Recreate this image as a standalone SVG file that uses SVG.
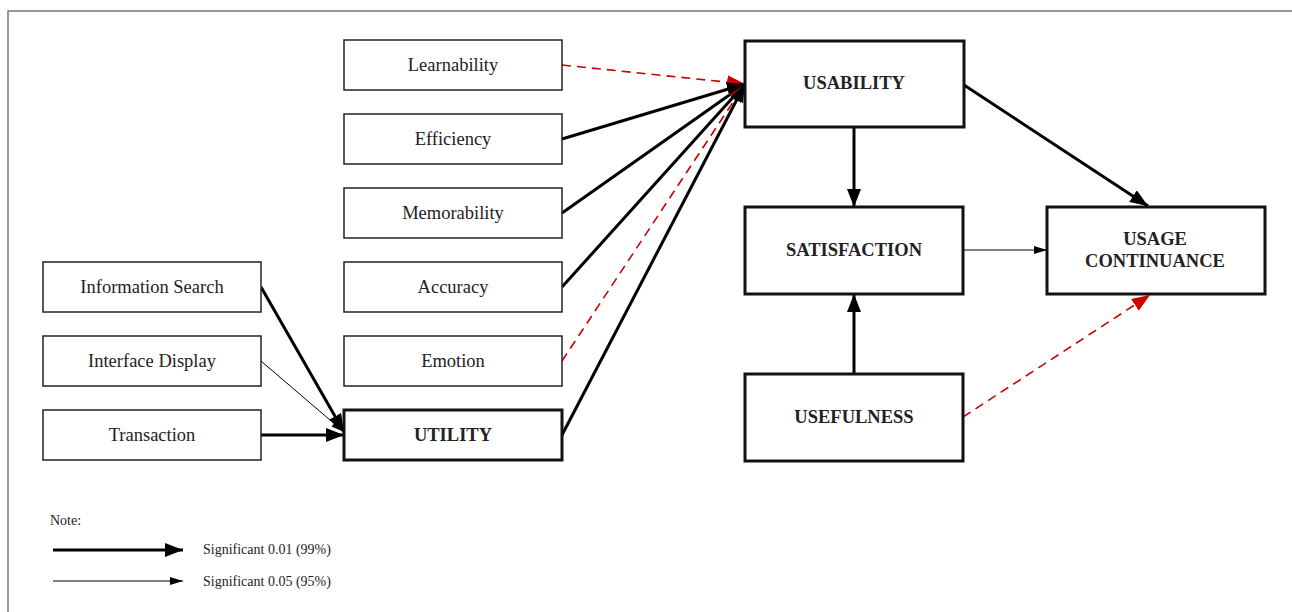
<svg xmlns="http://www.w3.org/2000/svg" width="1292" height="612" viewBox="0 0 1292 612">
<style>
.bg{fill:#fff}
.frame{fill:none;stroke:#777;stroke-width:1.5}
.n rect{fill:#fff;stroke:#222;stroke-width:1.5}
.k rect{fill:#fff;stroke:#111;stroke-width:3}
.n text{font-family:"Liberation Serif",serif;font-size:18.5px;fill:#222;text-anchor:middle}
.k text{font-family:"Liberation Serif",serif;font-size:18.5px;font-weight:bold;fill:#222;text-anchor:middle}
.thick{stroke:#000;stroke-width:3;fill:none;marker-end:url(#ah)}
.thin{stroke:#000;stroke-width:1;fill:none;marker-end:url(#as)}
.red{stroke:#c00;stroke-width:1.6;fill:none;stroke-dasharray:9 6;marker-end:url(#ar)}
.note{font-family:"Liberation Serif",serif;font-size:14px;fill:#222}
</style>
<defs>
<marker id="ah" markerUnits="userSpaceOnUse" markerWidth="20" markerHeight="14" refX="18" refY="7" orient="auto"><path d="M0,0 L18,7 L0,14 z" fill="#000"/></marker>
<marker id="as" markerUnits="userSpaceOnUse" markerWidth="14" markerHeight="10" refX="13" refY="5" orient="auto"><path d="M0,1 L13,5 L0,9 z" fill="#000"/></marker>
<marker id="ar" markerUnits="userSpaceOnUse" markerWidth="20" markerHeight="14" refX="18" refY="7" orient="auto"><path d="M0,0 L18,7 L0,14 z" fill="#c00"/></marker>
</defs>
<rect class="bg" x="0" y="0" width="1292" height="612"/>
<path class="frame" d="M8,620 L8,11 L1300,11"/>

<g id="connectors">
<line class="red" x1="562" y1="65" x2="745" y2="84"/>
<line class="thick" x1="562" y1="139" x2="745" y2="84"/>
<line class="thick" x1="562" y1="213" x2="745" y2="84"/>
<line class="thick" x1="562" y1="287" x2="745" y2="84"/>
<line class="red" x1="562" y1="361" x2="745" y2="84"/>
<line class="thick" x1="562" y1="435" x2="745" y2="84"/>
<line class="thick" x1="261" y1="287" x2="344" y2="432"/>
<line class="thin" x1="261" y1="361" x2="344" y2="432"/>
<line class="thick" x1="261" y1="435" x2="344" y2="435"/>
<line class="thick" x1="854" y1="127" x2="854" y2="207"/>
<line class="thick" x1="964" y1="85" x2="1148" y2="206"/>
<line class="thin" x1="963" y1="250" x2="1047" y2="250"/>
<line class="thick" x1="854" y1="374" x2="854" y2="294"/>
<line class="red" x1="963" y1="417" x2="1150" y2="295"/>
</g>

<g id="learnability" class="n"><rect x="344" y="40" width="218" height="50"/><text x="453" y="71">Learnability</text></g>
<g id="efficiency" class="n"><rect x="344" y="114" width="218" height="50"/><text x="453" y="145">Efficiency</text></g>
<g id="memorability" class="n"><rect x="344" y="188" width="218" height="50"/><text x="453" y="219">Memorability</text></g>
<g id="accuracy" class="n"><rect x="344" y="262" width="218" height="50"/><text x="453" y="293">Accuracy</text></g>
<g id="emotion" class="n"><rect x="344" y="336" width="218" height="50"/><text x="453" y="367">Emotion</text></g>
<g id="utility" class="k"><rect x="344" y="410" width="218" height="50"/><text x="453" y="441">UTILITY</text></g>
<g id="information-search" class="n"><rect x="43" y="262" width="218" height="50"/><text x="152" y="293">Information Search</text></g>
<g id="interface-display" class="n"><rect x="43" y="336" width="218" height="50"/><text x="152" y="367">Interface Display</text></g>
<g id="transaction" class="n"><rect x="43" y="410" width="218" height="50"/><text x="152" y="441">Transaction</text></g>
<g id="usability" class="k"><rect x="745" y="41" width="219" height="86"/><text x="854" y="89">USABILITY</text></g>
<g id="satisfaction" class="k"><rect x="745" y="207" width="218" height="87"/><text x="854" y="256">SATISFACTION</text></g>
<g id="usefulness" class="k"><rect x="745" y="374" width="218" height="87"/><text x="854" y="423">USEFULNESS</text></g>
<g id="usage-continuance" class="k"><rect x="1047" y="207" width="218" height="87"/><text x="1155" y="245">USAGE</text><text x="1155" y="267">CONTINUANCE</text></g>

<g id="legend">
<text class="note" x="50" y="525">Note:</text>
<line class="thick" x1="53" y1="550" x2="183" y2="550"/>
<text class="note" x="203" y="554">Significant 0.01 (99%)</text>
<line class="thin" x1="53" y1="581" x2="183" y2="581"/>
<text class="note" x="203" y="586">Significant 0.05 (95%)</text>
</g>
</svg>
